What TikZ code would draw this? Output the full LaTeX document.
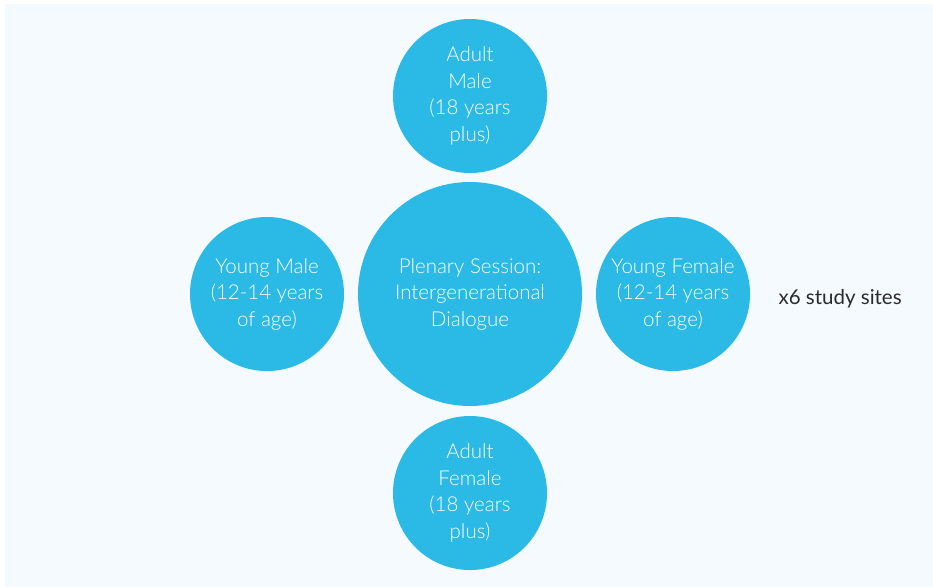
\documentclass[tikz,border=0pt]{standalone}
\usepackage{fontspec}
\setmainfont{Lato}
\newfontfamily\lightfont{Lato Light}
\definecolor{bgblue}{HTML}{F4FAFE}
\definecolor{circblue}{HTML}{2BB9E5}
\definecolor{darktext}{HTML}{2B2B2B}
\begin{document}
\begin{tikzpicture}[x=1pt, y=-1pt,
  group/.style={circle, fill=circblue, draw=none, text=white, align=center,
    inner sep=0pt, minimum size=154pt, font=\lightfont\fontsize{20.5}{26.5}\selectfont},
  plenary/.style={group, minimum size=224pt}]
% Khung nền
\fill[white] (0,0) rectangle (933,587);
\useasboundingbox (0,0) rectangle (933,587);
\fill[bgblue] (5,4) rectangle (933,587);

% Vòng tròn trung tâm
\node[plenary] (plenary) at (470,294) {Plenary Session:\\Intergenerational\\Dialogue};

% Các nhóm xung quanh
\node[group] (adultmale) at (470,96) {Adult\\Male\\(18 years\\plus)};
\node[group] (youngmale) at (267,294) {Young Male\\(12-14 years\\of age)};
\node[group] (youngfemale) at (673,294) {Young Female\\(12-14 years\\of age)};
\node[group] (adultfemale) at (470,493) {Adult\\Female\\(18 years\\plus)};

% Ghi chú
\node[text=darktext, font=\fontsize{20.5}{24}\selectfont, anchor=west] (sites) at (775,299) {x6 study sites};
\end{tikzpicture}
\end{document}
